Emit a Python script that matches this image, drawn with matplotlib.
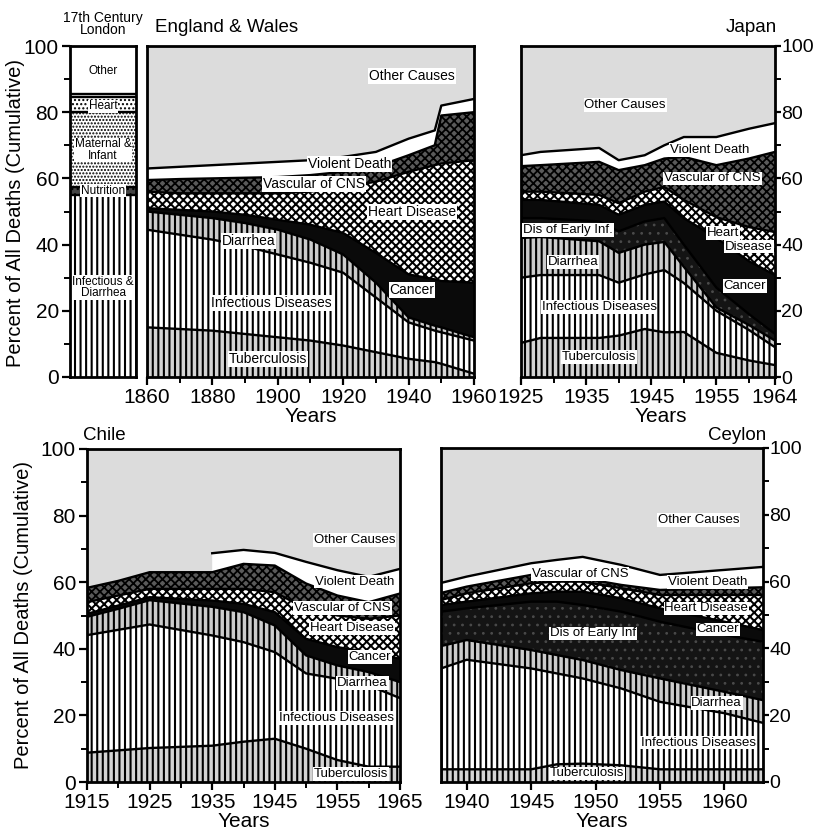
import matplotlib.pyplot as plt
import numpy as np
from matplotlib.ticker import MultipleLocator, FixedLocator

plt.rcParams['font.family'] = ['Liberation Sans', 'DejaVu Sans']
plt.rcParams['hatch.linewidth'] = 1.5

# ---- 17th century London (band thickness, bottom -> top)
london_labels = ['Infectious &\nDiarrhea', 'Nutrition', 'Maternal &\nInfant', 'Heart', '', 'Other']
london_vals = [55, 2.5, 22.5, 4.5, 1.0, 14.5]
london_kind = ['inf', 'nutr', 'mat', 'lheart', 'viol', 'lother']

# ---- England & Wales (cumulative tops)
years_ew = [1860, 1870, 1880, 1890, 1900, 1910, 1920, 1930, 1940, 1948, 1950, 1960]
ew_tb = [15, 14.5, 14, 13, 12, 11, 9.5, 7.5, 5.5, 4.5, 4, 1]
ew_inf = [44.5, 43, 41.5, 39.5, 37, 34.5, 31.5, 24, 16.5, 14, 13.5, 11]
ew_diar = [50, 49, 48, 46.5, 44.5, 41.5, 37, 28.5, 18, 15.5, 15, 12]
ew_cancer = [51, 50.5, 50, 49, 47.5, 46, 43.5, 37.5, 31, 29.5, 29, 28.5]
ew_heart = [56, 55.5, 55.5, 55.5, 55.5, 56, 57.4, 59, 62, 64, 64.5, 65.5]
ew_vasc = [59.5, 59.8, 60, 60.2, 60.4, 61, 62, 63.5, 67, 70, 79, 80]
ew_viol = [63, 63.5, 64, 64.5, 65, 65.5, 66.5, 68, 72, 74.5, 82, 84]

# ---- Japan
years_jp = [1925, 1928, 1937, 1940, 1944, 1947, 1950, 1955, 1960, 1964]
jp_tb = [10.3, 11.8, 11.8, 12.5, 14.5, 13.5, 13.6, 7.3, 5, 3.6]
jp_inf = [30, 30.8, 30.8, 28.5, 31, 32.3, 28.4, 20, 14.2, 9]
jp_diar = [42, 42.3, 41, 37.5, 40, 40.8, 33.3, 21, 15.7, 11]
jp_early = [48, 48, 47, 44, 47, 48, 40, 27, 19, 13]
jp_cancer = [53.5, 53.5, 52, 49, 52, 53, 48, 42, 35, 30.8]
jp_heart = [56, 56, 55, 52.5, 56, 57.4, 53.5, 48.3, 45.3, 43.8]
jp_vasc = [63.7, 64, 65, 62.5, 64, 66, 66.5, 64, 66, 68]
jp_viol = [67, 68, 69.2, 65.5, 67, 70, 72.5, 72.5, 75, 76.7]

# ---- Chile (violent death only recorded from 1935)
years_cl = [1915, 1920, 1925, 1935, 1940, 1945, 1950, 1955, 1960, 1965]
cl_tb = [8.8, 9.5, 10.2, 10.9, 12.1, 13, 10, 6.6, 4.6, 4.6]
cl_inf = [44.1, 45.7, 47.3, 44, 42, 39, 32.6, 31, 29, 25.2]
cl_diar = [49.6, 52, 54.6, 52.6, 51, 47, 38, 35, 33, 30]
cl_cancer = [50.5, 53, 55.5, 54.5, 53.5, 51, 43, 40.5, 39, 37]
cl_heart = [54, 56, 58, 58, 58, 57, 52, 50, 49, 50]
cl_vasc = [58.3, 60.4, 63, 63, 65.5, 65, 59.6, 56, 54, 56.6]
cl_viol = [68.7, 69.7, 68.8, 66.1, 63.6, 61.6, 64]   # 1935..1965

# ---- Ceylon
years_cy = [1938, 1940, 1945, 1947, 1949, 1952, 1955, 1960, 1963]
cy_tb = [3.8, 3.8, 3.8, 5.3, 5.5, 5.0, 3.8, 3.8, 3.8]
cy_inf = [34, 36.6, 34, 32.5, 31, 28, 24, 20.6, 17.7]
cy_diar = [40.7, 42.5, 39.5, 38, 36.5, 33.5, 31, 27, 24.5]
cy_early = [51, 52, 54, 54, 53, 51, 48, 44, 42]
cy_cancer = [53, 54, 56.5, 57, 57, 55, 52, 48, 45.5]
cy_heart = [54.5, 56.5, 59.5, 60, 60, 58, 56, 56, 56]
cy_vasc = [56.6, 58.5, 62, 62, 61, 59, 57.5, 58, 58.3]
cy_viol = [59.6, 61.5, 65.5, 66.5, 67.4, 65, 62, 63.5, 64.4]

# face colour, hatch, hatch colour, hatch linewidth
STYLE = {
    'tb': ('#d4d4d4', '|||', 'black', 1.5),
    'inf': ('white', '|||', 'black', 1.5),
    'diar': ('#cccccc', '|||', 'black', 1.5),
    'early': ('#141414', '..', '#4a4a4a', 0.8),
    'cancer': ('#0a0a0a', None, 'black', 1.0),
    'heart': ('white', 'xxxx', 'black', 1.45),
    'vasc': ('#5a5a5a', 'xxxx', 'black', 1.3),
    'viol': ('white', None, 'black', 1.0),
    'other': ('#dcdcdc', None, 'black', 1.0),
    'nutr': ('#444444', '...', 'black', 1.0),
    'mat': ('white', '.....', 'black', 1.0),
    'lheart': ('white', '....', 'black', 1.0),
    'lother': ('white', None, 'black', 1.0),
}

W, H = 813, 832
fig = plt.figure(figsize=(W / 100, H / 100), dpi=100)


def axes_px(x0, y0, x1, y1):
    return fig.add_axes([x0 / W, 1 - y1 / H, (x1 - x0) / W, (y1 - y0) / H])


def band(ax, x, lo, hi, kind):
    fc, hatch, hc, hlw = STYLE[kind]
    x = np.asarray(x, float)
    with plt.rc_context({'hatch.linewidth': hlw}):
        ax.fill(np.r_[x, x[::-1]], np.r_[lo, np.asarray(hi)[::-1]],
                facecolor=fc, edgecolor=hc, hatch=hatch, linewidth=0, zorder=1)


def label(ax, x, y, s, size=9.5):
    ax.text(x, y, s, ha='center', va='center', fontsize=size, zorder=5,
            bbox=dict(facecolor='white', edgecolor='none', pad=0.6))


def stack(ax, years, tops, kinds):
    lo = np.zeros(len(years))
    for top, kind in zip(tops + [np.full(len(years), 100.0)], kinds):
        band(ax, years, lo, top, kind)
        lo = np.asarray(top, float)
    for top in tops:
        ax.plot(years, top, color='black', lw=1.7, zorder=3)


def style_axes(ax, side='left', show_y=True):
    for sp in ax.spines.values():
        sp.set_linewidth(2)
    ax.set_ylim(0, 100)
    ax.tick_params(direction='out', labelsize=15, width=1.6, length=6, pad=2)
    ax.tick_params(which='minor', direction='out', width=1.4, length=4)
    if show_y:
        ax.yaxis.set_major_locator(MultipleLocator(20))
        ax.yaxis.set_minor_locator(MultipleLocator(10))
        if side == 'right':
            ax.yaxis.tick_right()
            ax.tick_params(axis='y', pad=0.5, length=4, labelsize=14)
    else:
        ax.set_yticks([])


kinds_ew = ['tb', 'inf', 'diar', 'cancer', 'heart', 'vasc', 'viol', 'other']
kinds_jp = ['tb', 'inf', 'diar', 'early', 'cancer', 'heart', 'vasc', 'viol', 'other']

# London bar
axl = axes_px(70, 46, 136, 377)
bottom = 0
for val, kind in zip(london_vals, london_kind):
    fc, hatch, hc, hlw = STYLE[kind]
    with plt.rc_context({'hatch.linewidth': hlw}):
        axl.bar(0, val, bottom=bottom, width=1.0, facecolor=fc, edgecolor=hc, hatch=hatch, linewidth=0)
    bottom += val
for b in np.cumsum(london_vals)[:-1]:
    axl.axhline(b, color='black', lw=1.7)
axl.set_xlim(-0.5, 0.5)
axl.set_xticks([])
style_axes(axl)
london_pos = [27, 56.3, 68.6, 81.8, None, 92.5]
for s, y in zip(london_labels, london_pos):
    if s:
        axl.text(0, y, s, ha='center', va='center', fontsize=8.5, linespacing=0.95,
                 bbox=dict(facecolor='white', edgecolor='none', pad=0.3))
fig.text(103 / W, 1 - 24 / H, '17th Century\nLondon', ha='center', va='center', fontsize=10, linespacing=0.9)

# England & Wales
axe = axes_px(147, 46, 474, 377)
stack(axe, years_ew, [ew_tb, ew_inf, ew_diar, ew_cancer, ew_heart, ew_vasc, ew_viol], kinds_ew)
axe.set_xlim(1860, 1960)
style_axes(axe, show_y=False)
axe.xaxis.set_major_locator(MultipleLocator(20))
axe.xaxis.set_minor_locator(MultipleLocator(10))
axe.set_xlabel('Years', fontsize=15, labelpad=0)
for x, y, s in [(1941, 91, 'Other Causes'), (1922, 64.4, 'Violent Death'), (1911, 58.3, 'Vascular of CNS'),
                (1941, 49.8, 'Heart Disease'), (1891, 41, 'Diarrhea'), (1898, 22.4, 'Infectious Diseases'),
                (1941, 26.3, 'Cancer'), (1897, 5.4, 'Tuberculosis')]:
    label(axe, x, y, s, 10)
fig.text(155 / W, 1 - 28 / H, 'England & Wales', ha='left', va='center', fontsize=13.5)

# Japan
axj = axes_px(521, 46, 775, 377)
stack(axj, years_jp, [jp_tb, jp_inf, jp_diar, jp_early, jp_cancer, jp_heart, jp_vasc, jp_viol], kinds_jp)
axj.set_xlim(1925, 1964)
style_axes(axj, side='right')
axj.xaxis.set_major_locator(FixedLocator([1925, 1935, 1945, 1955, 1964]))
axj.xaxis.set_minor_locator(FixedLocator([1930, 1940, 1950, 1960]))
axj.set_xlabel('Years', fontsize=15, labelpad=0)
axj.xaxis.label.set_x(0.55)
for x, y, s in [(1941, 82.2, 'Other Causes'), (1953.9, 68.6, 'Violent Death'), (1954.4, 60, 'Vascular of CNS'),
                (1932.2, 44.4, 'Dis of Early Inf.'), (1956, 43.5, 'Heart'), (1960, 39.4, 'Disease'),
                (1933, 34.8, 'Diarrhea'), (1959.4, 27.5, 'Cancer'), (1937, 21.1, 'Infectious Diseases'),
                (1937, 6, 'Tuberculosis')]:
    label(axj, x, y, s)
fig.text(777 / W, 1 - 28 / H, 'Japan', ha='right', va='center', fontsize=13.5)

# Chile
axc = axes_px(87, 449, 400, 782)
stack(axc, years_cl, [cl_tb, cl_inf, cl_diar, cl_cancer, cl_heart, cl_vasc],
      ['tb', 'inf', 'diar', 'cancer', 'heart', 'vasc', 'other'])
band(axc, years_cl[3:], cl_vasc[3:], cl_viol, 'viol')
axc.plot(years_cl[3:], cl_viol, color='black', lw=1.7, zorder=3)
axc.set_xlim(1915, 1965)
style_axes(axc)
axc.xaxis.set_major_locator(FixedLocator([1915, 1925, 1935, 1945, 1955, 1965]))
axc.xaxis.set_minor_locator(FixedLocator([1920, 1930, 1940, 1950, 1960]))
axc.set_xlabel('Years', fontsize=15, labelpad=0)
for x, y, s in [(1957.8, 72.7, 'Other Causes'), (1957.7, 60.2, 'Violent Death'), (1955.8, 52.2, 'Vascular of CNS'),
                (1957.3, 46.2, 'Heart Disease'), (1960.2, 37.6, 'Cancer'), (1959, 29.7, 'Diarrhea'),
                (1954.8, 19.2, 'Infectious Diseases'), (1957.2, 2.4, 'Tuberculosis')]:
    label(axc, x, y, s)
fig.text(83 / W, 1 - 435 / H, 'Chile', ha='left', va='center', fontsize=13.5)

# Ceylon
axy = axes_px(441, 448, 763, 782)
stack(axy, years_cy, [cy_tb, cy_inf, cy_diar, cy_early, cy_cancer, cy_heart, cy_vasc, cy_viol], kinds_jp)
axy.set_xlim(1938, 1963)
style_axes(axy, side='right')
axy.xaxis.set_major_locator(FixedLocator([1940, 1945, 1950, 1955, 1960]))
axy.set_xlabel('Years', fontsize=15, labelpad=0)
for x, y, s in [(1958, 78.4, 'Other Causes'), (1948.8, 62.3, 'Vascular of CNS'), (1958.7, 59.8, 'Violent Death'),
                (1958.6, 52, 'Heart Disease'), (1959.5, 45.7, 'Cancer'), (1949.8, 44.5, 'Dis of Early Inf'),
                (1959.4, 23.6, 'Diarrhea'), (1958, 11.8, 'Infectious Diseases'), (1949.3, 2.6, 'Tuberculosis')]:
    label(axy, x, y, s)
fig.text(766 / W, 1 - 435 / H, 'Ceylon', ha='right', va='center', fontsize=13.5)

fig.text(16 / W, 1 - 213 / H, 'Percent of All Deaths (Cumulative)', rotation=90, ha='center', va='center', fontsize=14.5)
fig.text(24 / W, 1 - 615 / H, 'Percent of All Deaths (Cumulative)', rotation=90, ha='center', va='center', fontsize=14.5)

fig.savefig('out.png', dpi=100)
